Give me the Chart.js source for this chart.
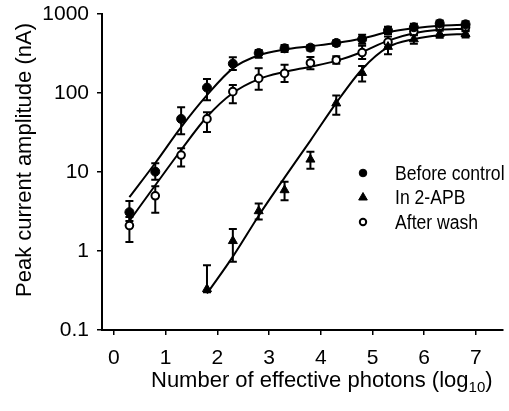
<!DOCTYPE html>
<html><head><meta charset="utf-8">
<script src="https://cdn.jsdelivr.net/npm/chart.js@4.4.1/dist/chart.umd.min.js"></script>
<style>html,body{margin:0;padding:0;background:#fff;}#wrap{width:509px;height:411px;position:relative;}</style>
</head><body><div id="wrap"><canvas id="c"></canvas></div>
<script>
// ---- data ----
const xPoints = [0.3, 0.8, 1.3, 1.8, 2.3, 2.8, 3.3, 3.8, 4.3, 4.8, 5.3, 5.8, 6.3, 6.8];
const beforeControl   = [3.1, 10.1, 47, 117, 235, 320, 368, 375, 430, 480, 620, 680, 760, 740];
const beforeControlHi = [4.3, 12.9, 66, 150, 283, 350, 405, 405, 465, 545, 690, 750, 830, 810];
const beforeControlLo = [2.4, 8.0, 30, 81, 195, 280, 330, 345, 395, 420, 560, 620, 690, 680];
const afterWash   = [2.1, 5.0, 16.4, 47, 104, 153, 177, 240, 262, 325, 440, 600, 700, 680];
const afterWashHi = [2.7, 6.6, 20, 57, 126, 206, 227, 285, 292, 395, 520, 660, 770, 740];
const afterWashLo = [1.3, 3.05, 11.7, 32, 74, 110, 138, 200, 235, 270, 380, 540, 640, 620];
const apbX = [1.8, 2.3, 2.8, 3.3, 3.8, 4.3, 4.8, 5.3, 5.8, 6.3, 6.8];
const in2APB   = [0.33, 1.34, 3.2, 5.9, 14.4, 74, 180, 385, 480, 560, 560];
const in2APBHi = [0.66, 1.9, 4.0, 7.5, 18, 93, 220, 455, 545, 615, 605];
const in2APBLo = [0.30, 0.73, 2.5, 4.4, 11, 53, 140, 310, 420, 500, 505];
// fitted curves
const beforeFit = [4.8, 13, 37, 94, 205, 300, 355, 390, 430, 490, 590, 660, 710, 730];
const washFit   = [2.4, 6.8, 19, 50, 100, 150, 185, 215, 255, 330, 460, 570, 630, 650];
const apbFit    = [0.29, 0.85, 2.8, 8.5, 25, 75, 200, 380, 480, 540, 560];
const legendLabels = ['Before control', 'In 2-APB', 'After wash'];
const xTickValues = [0, 1, 2, 3, 4, 5, 6, 7];
const xTickLabels = ['0', '1', '2', '3', '4', '5', '6', '7'];
const yTickValues = [0.1, 1, 10, 100, 1000];
const yTickLabels = ['0.1', '1', '10', '100', '1000'];
const yTitle = 'Peak current amplitude (nA)';
const xTitleParts = ['Number of effective photons (log', '10', ')'];

const FONT = '"Liberation Sans", Arial, Helvetica, sans-serif';
const pts = (xs, ys) => xs.map((x, i) => ({x: x, y: ys[i]}));

const errorBars = {
  id: 'errorBars',
  beforeDatasetsDraw(chart) {
    const ctx = chart.ctx, xs = chart.scales.x, ys = chart.scales.y;
    ctx.save();
    ctx.strokeStyle = '#000';
    ctx.lineWidth = 2;
    chart.data.datasets.forEach(ds => {
      if (!ds.errHi) return;
      ds.data.forEach((p, i) => {
        const px = xs.getPixelForValue(p.x);
        const hi = ys.getPixelForValue(ds.errHi[i]);
        const lo = ys.getPixelForValue(ds.errLo[i]);
        ctx.beginPath();
        ctx.moveTo(px, hi); ctx.lineTo(px, lo);
        ctx.moveTo(px - 4, hi); ctx.lineTo(px + 4, hi);
        ctx.moveTo(px - 4, lo); ctx.lineTo(px + 4, lo);
        ctx.stroke();
      });
    });
    ctx.restore();
  }
};

const extras = {
  id: 'extras',
  afterDraw(chart) {
    const ctx = chart.ctx;
    ctx.save();
    ctx.fillStyle = '#000';
    // y title
    ctx.save();
    ctx.translate(31, 160);
    ctx.rotate(-Math.PI / 2);
    ctx.font = '22px ' + FONT;
    ctx.textAlign = 'center';
    ctx.textBaseline = 'alphabetic';
    ctx.fillText(yTitle, 0, 0);
    ctx.restore();
    // x title with subscript
    ctx.textAlign = 'left';
    ctx.textBaseline = 'alphabetic';
    let x = 151;
    ctx.font = '22px ' + FONT;
    ctx.fillText(xTitleParts[0], x, 387);
    x += ctx.measureText(xTitleParts[0]).width;
    ctx.font = '15px ' + FONT;
    ctx.fillText(xTitleParts[1], x, 392);
    x += ctx.measureText(xTitleParts[1]).width;
    ctx.font = '22px ' + FONT;
    ctx.fillText(xTitleParts[2], x, 387);
    // legend
    const rows = [173, 197.5, 222];
    for (let i = 0; i < 3; i++) {
      const ds = chart.data.datasets[i];
      ctx.fillStyle = ds.backgroundColor;
      ctx.strokeStyle = ds.borderColor;
      ctx.lineWidth = ds.borderWidth;
      Chart.helpers.drawPoint(ctx, {pointStyle: ds.pointStyle, rotation: 0, radius: ds.legendRadius, borderWidth: ds.borderWidth}, 363, rows[i]);
      ctx.fillStyle = '#000';
      ctx.save();
      ctx.translate(395, rows[i]);
      ctx.scale(0.88, 1);
      ctx.font = '20px ' + FONT;
      ctx.textBaseline = 'middle';
      ctx.fillText(ds.label, 0, 1);
      ctx.restore();
    }
    ctx.restore();
  }
};

new Chart(document.getElementById('c'), {
  type: 'line',
  data: {
    datasets: [
      {label: legendLabels[0], data: pts(xPoints, beforeControl), errHi: beforeControlHi, errLo: beforeControlLo,
       showLine: false, pointStyle: 'circle', pointRadius: 4.5, legendRadius: 3.8, backgroundColor: '#000', borderColor: '#000', borderWidth: 1},
      {label: legendLabels[1], data: pts(apbX, in2APB), errHi: in2APBHi, errLo: in2APBLo,
       showLine: false, pointStyle: 'triangle', pointRadius: 5.2, legendRadius: 5, backgroundColor: '#000', borderColor: '#000', borderWidth: 1},
      {label: legendLabels[2], data: pts(xPoints, afterWash), errHi: afterWashHi, errLo: afterWashLo,
       showLine: false, pointStyle: 'circle', pointRadius: 3.8, legendRadius: 3.2, backgroundColor: '#fff', borderColor: '#000', borderWidth: 2},
      {label: 'fit1', data: pts(xPoints, beforeFit), pointRadius: 0, borderColor: '#000', borderWidth: 2, cubicInterpolationMode: 'monotone', fill: false},
      {label: 'fit2', data: pts(apbX, apbFit), pointRadius: 0, borderColor: '#000', borderWidth: 2, cubicInterpolationMode: 'monotone', fill: false},
      {label: 'fit3', data: pts(xPoints, washFit), pointRadius: 0, borderColor: '#000', borderWidth: 2, cubicInterpolationMode: 'monotone', fill: false}
    ]
  },
  options: {
    responsive: true, maintainAspectRatio: false, animation: false, devicePixelRatio: 1,
    layout: {padding: {top: 14, right: 0, bottom: 0, left: 0}},
    plugins: {legend: {display: false}, tooltip: {enabled: false}},
    scales: {
      x: {
        type: 'linear', min: -0.23, max: 7.52,
        afterBuildTicks: s => { s.ticks = xTickValues.map(v => ({value: v})); },
        afterFit: s => { s.height = 81; s.paddingLeft = 0; s.paddingRight = 0; },
        ticks: {callback: v => { const i = xTickValues.indexOf(v); return i < 0 ? '' : xTickLabels[i]; },
                font: {family: FONT, size: 21}, color: '#000', padding: 11, maxRotation: 0, autoSkip: false},
        grid: {drawOnChartArea: false, drawTicks: true, tickLength: 5, color: '#000', lineWidth: 1.5},
        border: {color: '#000', width: 2}
      },
      y: {
        type: 'logarithmic', min: 0.1, max: 1000,
        afterBuildTicks: s => { s.ticks = yTickValues.map(v => ({value: v})); },
        afterFit: s => { s.width = 102; s.paddingTop = 0; s.paddingBottom = 0; },
        ticks: {callback: v => { const i = yTickValues.indexOf(v); return i < 0 ? '' : yTickLabels[i]; },
                font: {family: FONT, size: 21}, color: '#000', padding: 8, autoSkip: false},
        grid: {drawOnChartArea: false, drawTicks: true, tickLength: 5, color: '#000', lineWidth: 1.5},
        border: {color: '#000', width: 2}
      }
    }
  },
  plugins: [errorBars, extras]
});
</script></body></html>
